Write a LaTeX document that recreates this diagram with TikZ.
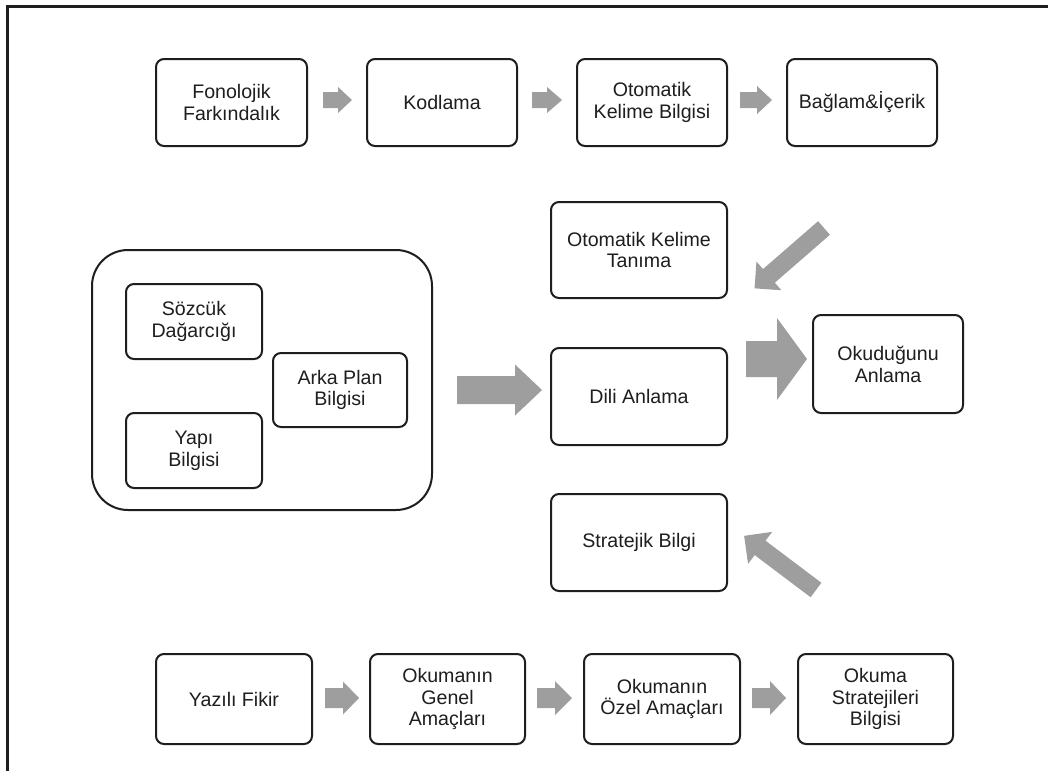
\documentclass[tikz,border=0pt]{standalone}
\usepackage{fontspec}
\setmainfont{Liberation Sans}
\definecolor{ink}{RGB}{30,30,30}
\definecolor{arrowgray}{RGB}{158,158,158}
\tikzset{
  box/.style={draw=ink, line width=1pt, rounded corners=4pt, align=center,
    font=\fontsize{9.8}{10.9}\selectfont, text=ink, inner sep=0pt},
  bigbox/.style={draw=ink, line width=1pt, rounded corners=18pt, inner sep=0pt},
  frameline/.style={draw=ink, line width=1.4pt},
}
% rounded box from its corners: name, x1, y1, x2, y2, text, extra style
\newcommand\rbox[7]{%
  \node[#7, minimum width={(#4-#2)*0.5pt}, minimum height={(#5-#3)*0.5pt}]
    (#1) at ({(#2+#4)/2},{(#3+#5)/2}) {#6};}
% gray block arrow: tail x, tail y, direction, length, head length, shaft half width, head half width
\newcommand\blockarrow[7]{%
  \fill[arrowgray, shift={(#1,#2)}, rotate=#3]
    (0,-#6) -- ({#4-#5},-#6) -- ({#4-#5},-#7) -- (#4,0) -- ({#4-#5},#7)
    -- ({#4-#5},#6) -- (0,#6) -- cycle;}
\begin{document}
\begin{tikzpicture}[x=0.5pt,y=-0.5pt]
\useasboundingbox (0,0) rectangle (1048,771);
\fill[white] (0,0) rectangle (1048,771);
% frame
\draw[frameline] (7.5,771) -- (7.5,6.5) -- (1048,6.5);

% top row
\rbox{fon}{156}{59}{307}{146}{Fonolojik\\Farkındalık}{box}
\rbox{kod}{367}{59}{517}{146}{Kodlama}{box}
\rbox{okb}{577}{59}{727}{146}{Otomatik\\Kelime Bilgisi}{box}
\rbox{bag}{787}{59}{937}{146}{Bağlam\&İçerik}{box}
\blockarrow{323}{100}{0}{29}{14}{8}{13}
\blockarrow{532}{100}{0}{30}{15}{8}{13}
\blockarrow{740}{100}{0}{32}{15}{8}{14}

% middle: knowledge group
\rbox{kb}{92}{250}{432}{510}{}{bigbox}
\rbox{soz}{126}{284}{262}{359}{Sözcük\\Dağarcığı}{box}
\rbox{yapi}{126}{413}{262}{488}{Yapı\\Bilgisi}{box}
\rbox{arka}{273}{353}{407}{427}{Arka Plan\\Bilgisi}{box}
\blockarrow{457}{390}{0}{85}{27}{14}{25.5}

% middle: comprehension
\rbox{okt}{551}{202}{727}{298}{Otomatik Kelime\\Tanıma}{box}
\rbox{dili}{551}{348}{727}{445}{Dili Anlama}{box}
\rbox{strat}{551}{494}{727}{591}{Stratejik Bilgi}{box}
\rbox{okud}{813}{315}{963}{413}{Okuduğunu\\Anlama}{box}
\blockarrow{746}{359}{0}{61}{30}{18}{41}
\blockarrow{824}{228}{221}{92}{19}{9}{19}
\blockarrow{816}{590}{143}{90}{20}{9}{20}

% bottom row
\rbox{yaz}{156}{654}{312}{744}{Yazılı Fikir}{box}
\rbox{gen}{370}{654}{525}{744}{Okumanın\\Genel\\Amaçları}{box}
\rbox{ozel}{584}{654}{740}{744}{Okumanın\\Özel Amaçları}{box}
\rbox{ost}{798}{654}{953}{744}{Okuma\\Stratejileri\\Bilgisi}{box}
\blockarrow{325}{698}{0}{34}{16}{10}{16.5}
\blockarrow{537}{698}{0}{35}{17}{10}{17}
\blockarrow{752}{698}{0}{34}{16}{10}{17}
\end{tikzpicture}
\end{document}
